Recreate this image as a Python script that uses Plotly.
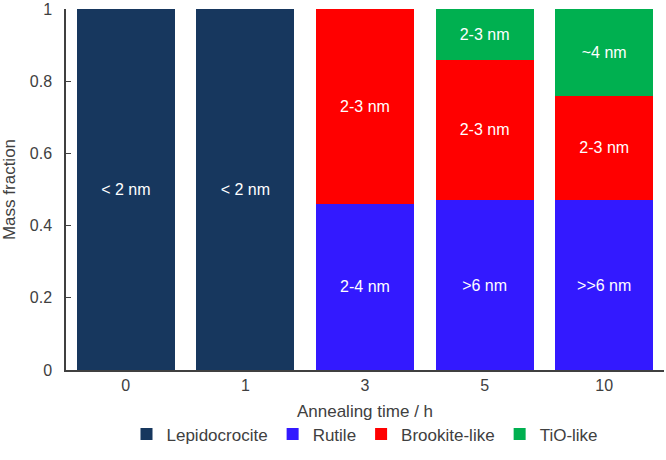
import plotly.graph_objects as go

categories = ["0", "1", "3", "5", "10"]
lepidocrocite = [1.0, 1.0, 0, 0, 0]
rutile = [0, 0, 0.46, 0.47, 0.47]
brookite = [0, 0, 0.54, 0.39, 0.29]
tio = [0, 0, 0, 0.14, 0.24]

lep_text = ["< 2 nm", "< 2 nm", "", "", ""]
rut_text = ["", "", "2-4 nm", ">6 nm", ">>6 nm"]
brk_text = ["", "", "2-3 nm", "2-3 nm", "2-3 nm"]
tio_text = ["", "", "", "2-3 nm", "~4 nm"]

series = [
    ("Lepidocrocite", lepidocrocite, lep_text, "#17375E"),
    ("Rutile", rutile, rut_text, "#3319FF"),
    ("Brookite-like", brookite, brk_text, "#FF0000"),
    ("TiO-like", tio, tio_text, "#00B050"),
]

FONT = "Liberation Sans, Arial, sans-serif"

fig = go.Figure()
for name, vals, txt, col in series:
    fig.add_trace(go.Bar(
        x=categories, y=vals, name=name, text=txt,
        marker=dict(color=col, line=dict(width=0)),
        textposition="inside", insidetextanchor="middle",
        textfont=dict(color="white", size=16, family=FONT),
        hoverinfo="skip",
    ))

fig.update_layout(
    barmode="stack",
    bargap=0.18,
    width=666, height=460,
    margin=dict(l=66, r=2, t=9, b=90, autoexpand=False),
    paper_bgcolor="white", plot_bgcolor="white",
    font=dict(family=FONT, size=16, color="#404040"),
    uniformtext=dict(mode="show", minsize=16),
    legend=dict(orientation="h", x=0.5, xanchor="center", y=-0.129, yanchor="top",
                font=dict(size=17, color="#404040"), itemwidth=30, traceorder="normal",
                tracegroupgap=0),
    xaxis=dict(type="category", showline=True, linecolor="#404040", linewidth=1.5,
               ticks="", showgrid=False, automargin=False, ticklabelstandoff=0,
               tickfont=dict(size=16),
               title=dict(text="Annealing time / h", font=dict(size=17), standoff=12)),
    yaxis=dict(range=[0, 1], dtick=0.2, showline=True, linecolor="#404040", linewidth=1.5,
               ticks="inside", ticklen=5, tickcolor="#404040", showgrid=False, zeroline=False,
               ticklabelstandoff=9, automargin=False, tickfont=dict(size=16),
               ticklabeloverflow="allow",
               title=dict(text="Mass fraction", font=dict(size=17), standoff=21)),
)

fig.write_html("out.html", config={"displayModeBar": False},
               post_script="document.body.style.margin='0';")
